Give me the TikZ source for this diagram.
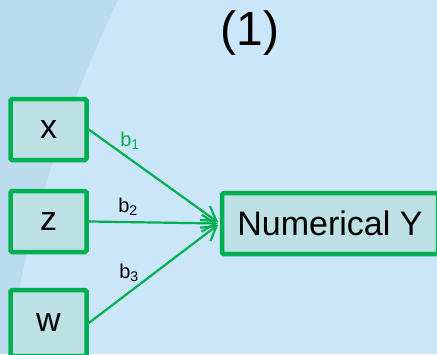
\documentclass[tikz,border=0pt]{standalone}
\usepackage{fontspec}
\setmainfont{Liberation Sans}
\usetikzlibrary{arrows.meta}
\definecolor{bgmain}{HTML}{CBE6F8}
\definecolor{bgdark}{HTML}{BBDBEF}
\definecolor{boxfill}{HTML}{BCE0E4}
\definecolor{grn}{HTML}{00B050}
\tikzset{
  varbox/.style={draw=grn, line width=4.5pt, fill=boxfill, rounded corners=1.5pt,
    inner sep=0pt, font=\fontsize{34}{34}\selectfont},
  conn/.style={draw=grn, line width=2.2pt, shorten >=2pt,
    -{Straight Barb[length=14pt,width=17pt,line width=2.2pt]}},
  blab/.style={font=\fontsize{20}{20}\selectfont, inner sep=0pt}
}
\begin{document}
\begin{tikzpicture}[x=1pt,y=-1pt]
\fill[bgmain] (0,0) rectangle (437,354);
\useasboundingbox (0,0) rectangle (437,354);
\fill[bgdark] (0,0) -- (118,0) .. controls (80,80) and (30,200) .. (8,354) -- (0,354) -- cycle;
\node[font=\fontsize{48}{48}\selectfont] (title) at (250,33) {(1)};
\node[varbox, minimum width=76pt, minimum height=61pt] (x) at (48.5,129.5) {x};
\node[varbox, minimum width=76pt, minimum height=61pt] (z) at (48.5,221.5) {z};
\node[varbox, minimum width=76pt, minimum height=66pt] (w) at (48.5,323) {w};
\node[varbox, minimum width=216pt, minimum height=61pt] (y) at (330,223.5) {Numerical Y};
\draw[conn] (x.east) -- (y.west);
\draw[conn] (z.east) -- (y.west);
\draw[conn] (w.east) -- (y.west);
\node[blab, text=grn] (b1) at (130,141) {b\textsubscript{1}};
\node[blab] (b2) at (128,207) {b\textsubscript{2}};
\node[blab] (b3) at (129,273) {b\textsubscript{3}};
\end{tikzpicture}
\end{document}
